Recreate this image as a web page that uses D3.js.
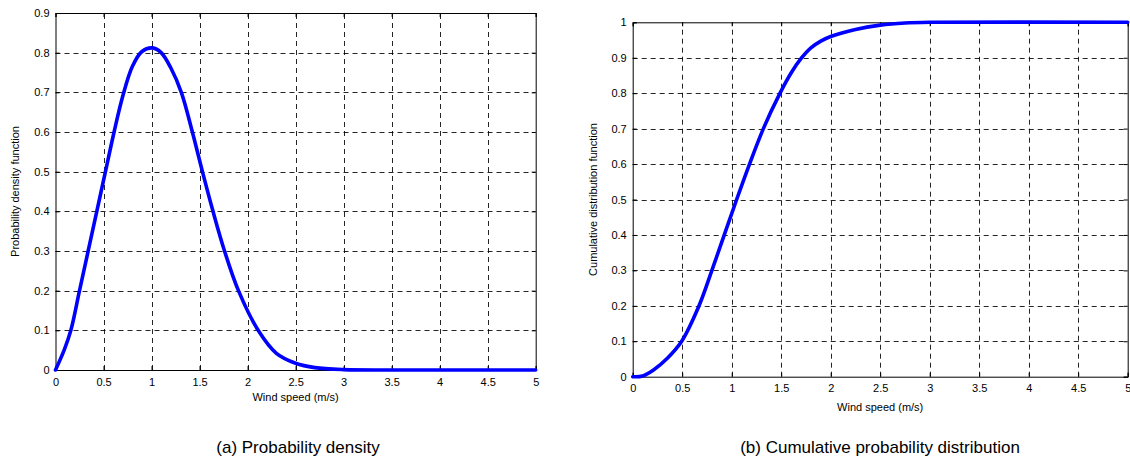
<!DOCTYPE html>
<html><head><meta charset="utf-8">
<script src="https://cdn.jsdelivr.net/npm/d3@7"></script>
<style>
body{margin:0;background:#fff;}
text{font-family:"Liberation Sans",Arial,sans-serif;}
</style></head>
<body><svg id="c" width="1130" height="468"></svg>
<script>
// Data
const xTicks = [0,0.5,1,1.5,2,2.5,3,3.5,4,4.5,5];
const pdfYTicks = [0,0.1,0.2,0.3,0.4,0.5,0.6,0.7,0.8,0.9];
const cdfYTicks = [0,0.1,0.2,0.3,0.4,0.5,0.6,0.7,0.8,0.9,1];

const pdfSpeed = [0,0.09,0.16,0.25,0.34,0.43,0.52,0.61,0.7,0.8,0.9,1.01,1.1,1.2,1.31,1.425,1.53,1.64,1.76,1.905,2.11,2.3,2.5,2.7,3,3.5,5];
const pdfValue = [0,0.05,0.1,0.2,0.3,0.4,0.5,0.6,0.69,0.765,0.803,0.812,0.8,0.762,0.7,0.6,0.5,0.4,0.3,0.2,0.1,0.042,0.017,0.006,0.001,0,0];

const cdfSpeed = [0,0.1,0.21,0.35,0.495,0.67,0.8,0.925,1.05,1.18,1.32,1.488,1.6,1.707,1.8,1.9,2,2.25,2.5,2.75,3,5];
const cdfValue = [0,0.002,0.019,0.052,0.1,0.2,0.3,0.4,0.5,0.6,0.7,0.8,0.857,0.9,0.928,0.947,0.96,0.98,0.992,0.998,1,1];

const svg = d3.select("#c");

function panel(opt){
  const g = svg.append("g");
  const x = d3.scaleLinear().domain([0,5]).range([opt.x0,opt.x1]);
  const y = d3.scaleLinear().domain([0,opt.ymax]).range([opt.y0,opt.y1]);
  const fmt = d => d3.format("~g")(d);
  // grid
  g.append("g").selectAll("line").data(opt.xt.filter(d=>d>0&&d<5)).join("line")
    .attr("x1",d=>Math.round(x(d))+0.5).attr("x2",d=>Math.round(x(d))+0.5)
    .attr("y1",opt.y0).attr("y2",opt.y1)
    .attr("stroke","#000").attr("stroke-width",1).attr("stroke-dasharray","5,4").attr("opacity",0.85);
  g.append("g").selectAll("line").data(opt.yt.filter(d=>d>0&&d<opt.ymax)).join("line")
    .attr("y1",d=>Math.round(y(d))+0.5).attr("y2",d=>Math.round(y(d))+0.5)
    .attr("x1",opt.x0).attr("x2",opt.x1)
    .attr("stroke","#000").attr("stroke-width",1).attr("stroke-dasharray","5,4").attr("opacity",0.85);
  // axes
  g.append("g").attr("transform",`translate(0,${opt.y0})`)
    .call(d3.axisBottom(x).tickValues(opt.xt).tickFormat(fmt).tickSize(-4).tickPadding(8));
  g.append("g").attr("transform",`translate(${opt.x0},0)`)
    .call(d3.axisLeft(y).tickValues(opt.yt).tickFormat(fmt).tickSize(-4).tickPadding(6));
  g.append("g").attr("transform",`translate(0,${opt.y1})`)
    .call(d3.axisTop(x).tickValues(opt.xt).tickFormat("").tickSize(-4));
  g.append("g").attr("transform",`translate(${opt.x1},0)`)
    .call(d3.axisRight(y).tickValues(opt.yt).tickFormat("").tickSize(-4));
  g.selectAll(".domain").attr("stroke","#000").attr("stroke-width",1);
  g.selectAll(".tick line").attr("stroke","#000");
  g.selectAll(".tick text").attr("font-size",11).attr("fill","#000")
    .attr("font-family","Liberation Sans, Arial, sans-serif");
  // curve
  const line = d3.line().x(d=>x(d[0])).y(d=>y(d[1])).curve(d3.curveCatmullRom.alpha(0.5));
  g.append("path").datum(d3.zip(opt.xs,opt.vs)).attr("d",line)
    .attr("fill","none").attr("stroke","#0000ff").attr("stroke-width",3.6)
    .attr("stroke-linejoin","round").attr("stroke-linecap","round");
  // titles
  g.append("text").attr("x",(opt.x0+opt.x1)/2).attr("y",opt.xtY)
    .attr("text-anchor","middle").attr("font-size",11).text("Wind speed (m/s)");
  g.append("text").attr("transform",`translate(${opt.ytX},${(opt.y0+opt.y1)/2}) rotate(-90)`)
    .attr("text-anchor","middle").attr("font-size",11).text(opt.ylabel);
  g.append("text").attr("x",opt.capX).attr("y",453)
    .attr("text-anchor","middle").attr("font-size",17).text(opt.caption);
}

panel({x0:55.5,x1:535.7,y0:370,y1:13,ymax:0.9,xt:xTicks,yt:pdfYTicks,
  xs:pdfSpeed,vs:pdfValue,xtY:401,ytX:19,ylabel:"Probability density function",
  capX:298,caption:"(a) Probability density"});
panel({x0:632.7,x1:1127.7,y0:376.7,y1:22.3,ymax:1,xt:xTicks,yt:cdfYTicks,
  xs:cdfSpeed,vs:cdfValue,xtY:411,ytX:597,ylabel:"Cumulative distribution function",
  capX:880,caption:"(b) Cumulative probability distribution"});
</script></body></html>
